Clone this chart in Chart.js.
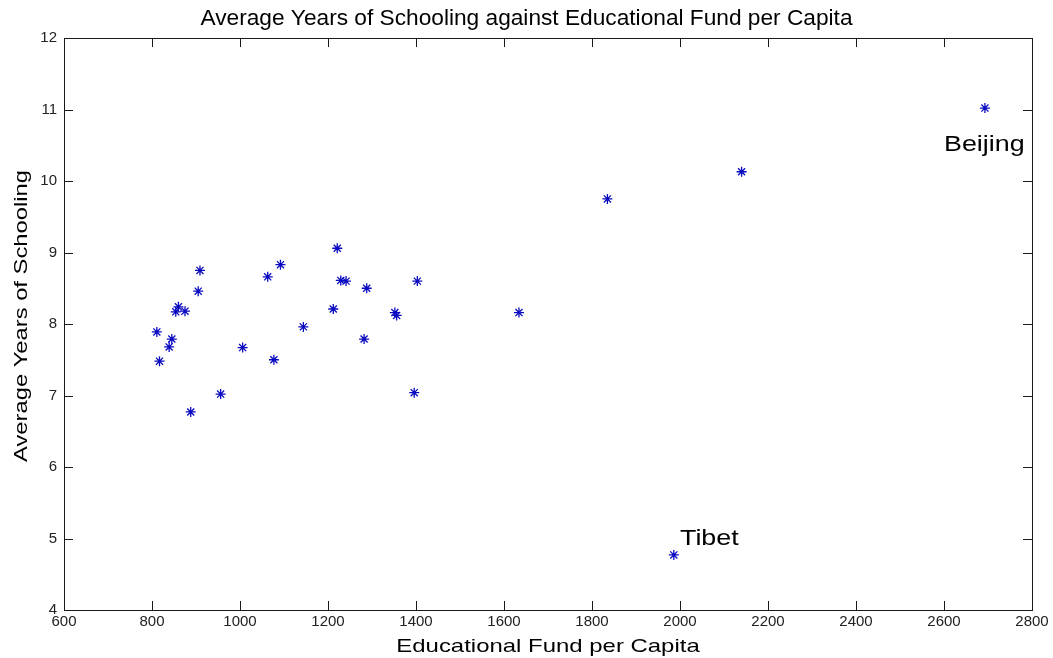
<!DOCTYPE html>
<html>
<head>
<meta charset="utf-8">
<script src="https://cdn.jsdelivr.net/npm/chart.js@4/dist/chart.umd.min.js"></script>
<style>
  html, body { margin: 0; padding: 0; background: #fff; }
  #wrap { width: 1053px; height: 658px; }
</style>
</head>
<body>
<div id="wrap"><canvas id="c" width="1053" height="658"></canvas></div>
<script>
// Educational fund per capita (x) and average years of schooling (y), one entry per province
const fundPerCapita = [909, 905, 860, 854, 875, 811, 845, 839, 817, 1006, 1077, 956, 888, 1063, 1092, 1144,
  1221, 1229, 1241, 1288, 1403, 1212, 1352, 1356, 1282, 1396, 1634, 2693, 2140, 1835, 1986];
const yearsOfSchooling = [8.75, 8.46, 8.24, 8.17, 8.18, 7.89, 7.79, 7.68, 7.48, 7.67, 7.50, 7.02, 6.77, 8.66, 8.83, 7.96,
  9.06, 8.61, 8.60, 8.50, 8.60, 8.21, 8.16, 8.12, 7.79, 7.04, 8.16, 11.02, 10.13, 9.75, 4.77];

// Text annotations placed at data coordinates
const noteText = ['Beijing', 'Tibet'];
const noteX = [2600, 2000];
const noteY = [10.5, 5];

// Titles
const chartTitle = 'Average Years of Schooling against Educational Fund per Capita';
const xTitle = 'Educational Fund per Capita';
const yTitle = 'Average Years of Schooling';

// Axis ranges
const xMin = 600, xMax = 2800, xStep = 200;
const yMin = 4, yMax = 12, yStep = 1;

const points = fundPerCapita.map((v, i) => ({ x: v, y: yearsOfSchooling[i] }));

const FONT = 'Arial, "Liberation Sans", sans-serif';
const TICK_LEN = 9;

// Box around the plot with inward tick marks on all four sides
const boxTicks = {
  id: 'boxTicks',
  afterDatasetsDraw(chart) {
    const { ctx, chartArea: a, scales } = chart;
    ctx.save();
    ctx.strokeStyle = '#1a1a1a';
    ctx.lineWidth = 1;
    ctx.beginPath();
    scales.x.ticks.forEach(t => {
      const px = Math.round(scales.x.getPixelForValue(t.value)) + 0.5;
      ctx.moveTo(px, a.bottom); ctx.lineTo(px, a.bottom - TICK_LEN);
      ctx.moveTo(px, a.top); ctx.lineTo(px, a.top + TICK_LEN);
    });
    scales.y.ticks.forEach(t => {
      const py = Math.round(scales.y.getPixelForValue(t.value)) + 0.5;
      ctx.moveTo(a.left, py); ctx.lineTo(a.left + TICK_LEN, py);
      ctx.moveTo(a.right, py); ctx.lineTo(a.right - TICK_LEN, py);
    });
    ctx.stroke();
    ctx.strokeRect(Math.round(a.left) + 0.5, Math.round(a.top) + 0.5,
      Math.round(a.right - a.left), Math.round(a.bottom - a.top));
    ctx.restore();
  }
};

// Draw text with horizontally widened glyphs
function wideText(ctx, s, x, y, stretch, angle) {
  ctx.save();
  ctx.translate(x, y);
  if (angle) ctx.rotate(angle);
  ctx.scale(stretch, 1);
  ctx.fillText(s, 0, 0);
  ctx.restore();
}

// Axis titles and province name labels
const texts = {
  id: 'texts',
  afterDraw(chart) {
    const { ctx, chartArea: a, scales } = chart;
    ctx.save();
    ctx.fillStyle = '#000';
    ctx.font = '19px ' + FONT;
    ctx.textAlign = 'center';
    ctx.textBaseline = 'alphabetic';
    wideText(ctx, xTitle, (a.left + a.right) / 2, 652, 1.26, 0);
    wideText(ctx, yTitle, 27, (a.top + a.bottom) / 2 - 8, 1.25, -Math.PI / 2);

    ctx.font = '22px ' + FONT;
    ctx.textAlign = 'left';
    ctx.textBaseline = 'middle';
    noteText.forEach((s, i) => {
      wideText(ctx, s, scales.x.getPixelForValue(noteX[i]), scales.y.getPixelForValue(noteY[i]), 1.22, 0);
    });
    ctx.restore();
  }
};

new Chart(document.getElementById('c'), {
  type: 'scatter',
  data: {
    datasets: [{
      data: points,
      pointStyle: 'star',
      pointRadius: 5,
      pointHoverRadius: 5,
      borderWidth: 1.3,
      borderColor: '#0a0ac0',
      backgroundColor: '#0a0ac0'
    }]
  },
  options: {
    responsive: false,
    animation: false,
    events: [],
    layout: { padding: 0 },
    plugins: {
      legend: { display: false },
      tooltip: { enabled: false },
      title: {
        display: true,
        text: chartTitle,
        color: '#000',
        font: { family: FONT, size: 22.7, weight: 'normal', lineHeight: 1.2 },
        padding: { top: 5.3, bottom: 5.5 }
      }
    },
    scales: {
      x: {
        type: 'linear',
        min: xMin, max: xMax,
        grid: { display: false, drawTicks: false },
        border: { display: false },
        ticks: {
          stepSize: xStep,
          autoSkip: false,
          maxRotation: 0,
          padding: 3,
          color: '#222',
          font: { family: FONT, size: 15 },
          callback: v => String(v)
        },
        afterFit(s) { s.height = 48; }
      },
      y: {
        type: 'linear',
        min: yMin, max: yMax,
        grid: { display: false, drawTicks: false },
        border: { display: false },
        ticks: {
          stepSize: yStep,
          autoSkip: false,
          padding: 7,
          color: '#222',
          font: { family: FONT, size: 15 },
          callback: v => String(v)
        },
        afterFit(s) { s.width = 64; }
      },
      // empty right-hand margin so the plot box ends where the frame should
      yRight: {
        type: 'linear',
        position: 'right',
        min: yMin, max: yMax,
        grid: { display: false, drawTicks: false },
        border: { display: false },
        ticks: { display: false },
        afterFit(s) { s.width = 21; }
      }
    }
  },
  plugins: [boxTicks, texts]
});
</script>
</body>
</html>
